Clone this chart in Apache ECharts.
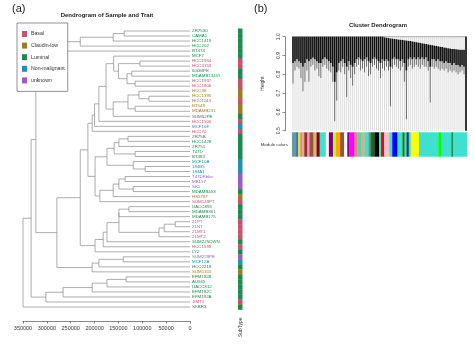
<!DOCTYPE html>
<html>
<head>
<meta charset="utf-8">
<script src="https://cdn.jsdelivr.net/npm/echarts@6/dist/echarts.min.js"></script>
<style>
html, body { margin: 0; padding: 0; background: #fff; }
#chart { width: 474px; height: 347px; }
</style>
</head>
<body>
<div id="chart"></div>
<script>
// ---- Panel (a): sample dendrogram ----
const subtypeNames = ['Basal', 'Claudin-low', 'Luminal', 'Non-malignant', 'unknown'];
const subtypeColors = ['#c4536f', '#9c7c26', '#1f8a50', '#2590b2', '#9a5cbf'];

// leaves, top to bottom
const leafNames = [
  'ZR7530', 'CAMA1', 'HCC1419', 'HCC202', 'BT474', 'MCF7', 'HCC1954', 'HCC3153',
  '600MPE', 'MDAMB134VI', 'HCC1937', 'HCC1806', 'HCC38', 'HCC1395', 'HCC1143', 'BT549',
  'MDAMB231', 'SUM52PE', 'HCC1500', 'MCF10F', 'HCC70', 'ZR75B', 'HCC1428', 'ZR751',
  'T47D', 'BT483', 'MCF10A', '184B5', '184A1', 'T47DKbluc', 'MB157', 'SK1',
  'MDAMB453', 'HS578T', 'SUM149PT', 'UACC893', 'MDAMB361', 'MDAMB175', '21PT', '21NT',
  '21MT1', '21MT2', 'SUM225CWN', 'HCC1599', 'LY2', 'SUM229PE', 'MCF12A', 'HCC2218',
  'SUM1315', 'EFM192B', 'AU565', 'UACC812', 'EFM192C', 'EFM192A', 'JIMT1', 'SKBR3'
];
// subtype index of each leaf (into subtypeNames)
const leafSubtype = [
  2, 2, 2, 2, 2, 2, 0, 0,
  2, 2, 0, 0, 1, 1, 0, 1,
  1, 2, 0, 3, 0, 2, 2, 2,
  2, 2, 3, 3, 3, 4, 4, 4,
  2, 1, 0, 2, 2, 2, 0, 0,
  0, 0, 2, 0, 2, 4, 3, 2,
  1, 2, 2, 2, 2, 2, 0, 2
];
// hclust-style merges: negative = leaf (1-based), positive = earlier merge; third = height
const merges = [
  [-1, -2, 138000], [1, -3, 161000], [2, -4, 230000], [3, -5, 300000],
  [-7, -8, 105000], [-9, -10, 122000], [-11, -12, 115000], [6, 7, 132000],
  [5, 8, 150000], [-6, 9, 160000], [-14, -15, 86000], [-13, 11, 107000],
  [-16, -17, 115000], [12, 13, 130000], [14, -18, 161000], [10, 15, 176000],
  [16, -19, 191000], [17, -20, 200000], [18, -21, 205000],
  [-22, -23, 130000], [20, -24, 149000], [-25, -26, 115000], [21, 22, 159000],
  [-28, -29, 94000], [-27, 24, 119000], [23, 25, 174000], [-30, -31, 136000],
  [-32, -33, 119000], [27, 28, 149000], [29, -34, 161000], [30, -35, 189000],
  [26, 31, 199000], [-36, -37, 128000], [33, -38, 149000], [-39, -40, 31000],
  [35, -41, 54000], [36, -42, 65000], [34, 37, 149000], [38, -43, 174000],
  [39, -44, 182000], [40, -45, 199000], [19, 32, 214000], [42, 41, 230000],
  [-46, -47, 140000], [44, -48, 191000], [45, -49, 205000], [43, 46, 279000],
  [4, 47, 323000], [-50, -51, 134000], [49, -52, 174000], [50, -53, 205000],
  [51, -54, 266000], [52, -55, 302000], [48, 53, 333000], [54, -56, 350000]
];

// ---- Panel (b): gene cluster dendrogram ----
// per column along the gene order: top of the branch mass, bottom of the dense
// branch mass, and the lowest single branch (all in Height units)
const branchTop = [
  1, 1, 1, 1, 1, 1, 1, 1, 1, 1, 1, 1, 1, 1, 1, 1, 1, 1, 1, 1,
  1, 1, 1, 1, 1, 1, 1, 1, 1, 1, 1, 1, 1, 1, 1, 1, 1, 1, 1, 1,
  1, 1, 1, 1, 1, 1, 0.997, 0.995, 0.993, 0.991, 0.99, 0.988, 0.987, 0.985, 0.984, 0.983, 0.981, 0.98, 0.978, 0.977,
  0.975, 0.973, 0.971, 0.969, 0.967, 0.965, 0.963, 0.961, 0.959, 0.957, 0.955, 0.953, 0.951, 0.949, 0.947, 0.945,
  0.943, 0.941, 0.939, 0.937, 0.935, 0.934, 0.933, 0.932, 0.931, 0.93, 0.93, 1
];
const branchDense = [
  0.86, 0.87, 0.88, 0.87, 0.86, 0.84, 0.86, 0.88, 0.87, 0.88, 0.89, 0.88, 0.87, 0.86, 0.86, 0.88, 0.89, 0.88, 0.87, 0.86,
  0.84, 0.76, 0.81, 0.86, 0.87, 0.88, 0.86, 0.84, 0.87, 0.85, 0.84, 0.86, 0.88, 0.89, 0.88, 0.87, 0.88, 0.89, 0.87, 0.86,
  0.88, 0.89, 0.88, 0.87, 0.86, 0.88, 0.87, 0.88, 0.87, 0.84, 0.88, 0.89, 0.88, 0.88, 0.87, 0.88, 0.86, 0.82, 0.88, 0.89,
  0.88, 0.89, 0.88, 0.89, 0.88, 0.89, 0.88, 0.89, 0.87, 0.84, 0.88, 0.88, 0.87, 0.88, 0.87, 0.87, 0.86, 0.87, 0.86, 0.86,
  0.85, 0.86, 0.85, 0.85, 0.84, 0.85, 0.84, 0.50
];
const branchLow = [
  0.75, 0.82, 0.84, 0.83, 0.78, 0.71, 0.76, 0.82, 0.76, 0.84, 0.85, 0.82, 0.83, 0.79, 0.78, 0.84, 0.85, 0.83, 0.82, 0.81,
  0.76, 0.55, 0.66, 0.82, 0.81, 0.84, 0.80, 0.68, 0.82, 0.78, 0.74, 0.80, 0.84, 0.85, 0.82, 0.83, 0.81, 0.84, 0.79, 0.80,
  0.84, 0.85, 0.83, 0.82, 0.78, 0.83, 0.82, 0.84, 0.82, 0.63, 0.83, 0.85, 0.84, 0.83, 0.82, 0.84, 0.76, 0.56, 0.84, 0.85,
  0.83, 0.84, 0.85, 0.84, 0.83, 0.85, 0.84, 0.84, 0.82, 0.65, 0.84, 0.83, 0.84, 0.83, 0.82, 0.83, 0.82, 0.83, 0.81, 0.82,
  0.81, 0.82, 0.81, 0.80, 0.81, 0.82, 0.80, 0.50
];
const rootHeight = 1.0;
const dendroBase = 0.5;

// module colour runs along the gene order: [module, gene count]
const moduleRuns = [
  ['cadetblue', 4], ['slateblue', 2], ['greenyellow', 2], ['salmon', 2], ['tan', 2],
  ['brown', 3], ['plum', 2], ['sienna', 4], ['tan', 3], ['darkred', 3],
  ['turquoise', 6], ['white', 3], ['purple', 4], ['greenyellow', 3], ['orange', 4],
  ['sienna', 4], ['white', 3], ['purple', 2], ['magenta', 5], ['salmon', 3],
  ['mediumaquamarine', 4], ['tan', 3], ['turquoise', 4], ['grey', 2], ['green', 2],
  ['darkslategray', 2], ['black', 4], ['turquoise', 2], ['red', 3], ['pink', 5],
  ['turquoise', 3], ['blue', 5], ['turquoise', 5], ['green', 2], ['turquoise', 2],
  ['midnightblue', 2], ['turquoise', 2], ['yellow', 8], ['turquoise', 19], ['lime', 3],
  ['turquoise', 10], ['darkgreen', 1], ['turquoise', 14]
];

// ---- derived structures ----
const nodeY = [], nodeH = [];
const dendroSegments = merges.map(function (m, k) {
  const side = function (c) {
    return c < 0 ? { y: -c - 1, h: 0 } : { y: nodeY[c - 1], h: nodeH[c - 1] };
  };
  const a = side(m[0]), b = side(m[1]);
  nodeY[k] = (a.y + b.y) / 2;
  nodeH[k] = m[2];
  return [m[2], a.y, b.y, a.h, b.h];
});
const subtypeBar = leafSubtype.map(function (s, i) { return [i, s]; });
const columns = branchTop.map(function (t, i) { return [i, t, branchDense[i], branchLow[i]]; });
let runStart = 0;
const moduleCells = moduleRuns.map(function (r) {
  const cell = [runStart, runStart + r[1], r[0]];
  runStart += r[1];
  return cell;
});
const geneCount = runStart;

const FONT = 'Liberation Sans, Arial, sans-serif';
const nLeaves = leafNames.length;
const nColumns = branchTop.length;

const chart = echarts.init(document.getElementById('chart'), null, { renderer: 'canvas' });

const option = {
  backgroundColor: '#fff',
  animation: false,
  textStyle: { fontFamily: FONT },
  legend: {
    orient: 'vertical',
    left: 17, top: 23,
    padding: [8, 3, 8, 5],
    itemWidth: 5, itemHeight: 6, itemGap: 5.6,
    icon: 'rect',
    borderColor: '#777', borderWidth: 0.8,
    backgroundColor: '#fff',
    selectedMode: false,
    textStyle: { fontSize: 5.2, color: '#333', fontFamily: FONT, padding: [0, 0, 0, -1] },
    data: subtypeNames
  },
  graphic: [
    { type: 'text', left: 12, top: 3, style: { text: '(a)', fontSize: 11, fill: '#222', fontFamily: FONT } },
    { type: 'text', left: 254, top: 3, style: { text: '(b)', fontSize: 11, fill: '#222', fontFamily: FONT } },
    { type: 'text', x: 107, y: 12, style: { text: 'Dendrogram of Sample and Trait', fontSize: 6, fontWeight: 'bold', fill: '#222', fontFamily: FONT, align: 'center' } },
    { type: 'text', x: 378, y: 22, style: { text: 'Cluster Dendrogram', fontSize: 6, fontWeight: 'bold', fill: '#222', fontFamily: FONT, align: 'center' } }
  ],
  grid: [
    { left: 23, width: 167, top: 28.5, height: 281 },
    { left: 238, width: 4.5, top: 28.5, height: 281 },
    { left: 292, width: 175, top: 36.7, height: 94 },
    { left: 292, width: 175, top: 132.3, height: 24.4 }
  ],
  xAxis: [
    {
      gridIndex: 0, type: 'value', min: 0, max: 350000, interval: 50000, inverse: true,
      offset: 11.5,
      axisLine: { show: true, onZero: false, lineStyle: { color: '#555', width: 0.7 } },
      axisTick: { show: true, length: 2.5, lineStyle: { color: '#555', width: 0.7 } },
      axisLabel: { fontSize: 5.5, color: '#333', margin: 4, formatter: function (v) { return String(v); } },
      splitLine: { show: false }
    },
    {
      gridIndex: 1, type: 'category', data: ['SubType'],
      axisLine: { show: false, onZero: false }, axisTick: { show: false },
      axisLabel: { rotate: 90, fontSize: 5, color: '#333', margin: 8 }
    },
    {
      gridIndex: 2, type: 'value', min: -0.5, max: nColumns - 0.5, show: false,
      axisLine: { onZero: false }
    },
    {
      gridIndex: 3, type: 'value', min: 0, max: geneCount, show: false,
      axisLine: { onZero: false }
    }
  ],
  yAxis: [
    {
      gridIndex: 0, type: 'value', min: -0.5, max: nLeaves - 0.5, inverse: true, show: false,
      axisLine: { onZero: false }
    },
    {
      gridIndex: 0, type: 'category', data: leafNames, inverse: true, position: 'right',
      axisLine: { show: false, onZero: false }, axisTick: { show: false },
      axisLabel: {
        interval: 0, fontSize: 4.4, margin: 2,
        color: function (v, i) { return subtypeColors[leafSubtype[i]]; }
      }
    },
    {
      gridIndex: 1, type: 'value', min: -0.5, max: nLeaves - 0.5, inverse: true, show: false,
      axisLine: { onZero: false }
    },
    {
      gridIndex: 2, type: 'value', min: dendroBase, max: 1.0, interval: 0.1,
      offset: 7,
      name: 'Height', nameLocation: 'middle', nameGap: 20, nameRotate: 90,
      nameTextStyle: { fontSize: 5, color: '#333' },
      axisLine: { show: true, onZero: false, lineStyle: { color: '#555', width: 0.7 } },
      axisTick: { show: true, length: 2.5, lineStyle: { color: '#555', width: 0.7 } },
      axisLabel: { rotate: 90, fontSize: 5, color: '#333', margin: 4, formatter: function (v) { return v.toFixed(1); } },
      splitLine: { show: false }
    },
    {
      gridIndex: 3, type: 'category', data: ['Module colors'],
      axisLine: { show: false, onZero: false }, axisTick: { show: false },
      axisLabel: { fontSize: 4.4, color: '#333', margin: 4 }
    }
  ],
  series: [
    {
      type: 'custom', name: 'tree', xAxisIndex: 0, yAxisIndex: 0,
      coordinateSystem: 'cartesian2d',
      encode: { x: [0, 3, 4], y: [1, 2] },
      data: dendroSegments,
      renderItem: function (params, api) {
        const h = api.value(0), y1 = api.value(1), y2 = api.value(2);
        const pts = [
          api.coord([api.value(3), y1]), api.coord([h, y1]),
          api.coord([h, y2]), api.coord([api.value(4), y2])
        ];
        return { type: 'polyline', shape: { points: pts }, style: { stroke: '#8a8a8a', lineWidth: 0.7, fill: null } };
      },
      z: 2
    },
    {
      type: 'custom', name: 'subtype', xAxisIndex: 1, yAxisIndex: 2,
      coordinateSystem: 'cartesian2d',
      data: subtypeBar,
      encode: { y: 0 },
      renderItem: function (params, api) {
        const i = api.value(0);
        const rect = params.coordSys;
        const p0 = api.coord([0, i - 0.5]);
        const p1 = api.coord([0, i + 0.5]);
        return {
          type: 'rect',
          shape: { x: rect.x, y: p0[1], width: rect.width, height: p1[1] - p0[1] + 0.3 },
          style: { fill: subtypeColors[api.value(1)] }
        };
      }
    },
    {
      type: 'custom', name: 'genes', xAxisIndex: 2, yAxisIndex: 3,
      coordinateSystem: 'cartesian2d',
      data: columns,
      encode: { x: 0, y: [1, 2, 3] },
      clip: false,
      renderItem: function (params, api) {
        const i = api.value(0), top = api.value(1);
        const c = api.coord([i, top]);
        const d = api.coord([i, api.value(2)]);
        const l = api.coord([i, api.value(3)]);
        const b = api.coord([i, dendroBase]);
        const rTop = api.coord([i, rootHeight]);
        const left = api.coord([i - 0.5, rootHeight]);
        const right = api.coord([i + 0.5, rootHeight]);
        const w = right[0] - left[0];
        const kids = [
          { type: 'line', shape: { x1: left[0], y1: left[1], x2: right[0], y2: right[1] }, style: { stroke: '#9a9a9a', lineWidth: 0.9 } },
          { type: 'line', shape: { x1: l[0], y1: l[1], x2: b[0], y2: b[1] }, style: { stroke: '#c6c6c6', lineWidth: 0.6 } },
          { type: 'line', shape: { x1: d[0], y1: d[1], x2: l[0], y2: l[1] }, style: { stroke: '#222', lineWidth: 0.7 } },
          { type: 'line', shape: { x1: c[0], y1: c[1], x2: d[0], y2: d[1] }, style: { stroke: '#111', lineWidth: w * 0.85 } }
        ];
        if (top < rootHeight) {
          kids.push({ type: 'line', shape: { x1: rTop[0], y1: rTop[1], x2: c[0], y2: c[1] }, style: { stroke: '#bdbdbd', lineWidth: 0.6 } });
        }
        return { type: 'group', children: kids };
      }
    },
    {
      type: 'custom', name: 'modules', xAxisIndex: 3, yAxisIndex: 4,
      coordinateSystem: 'cartesian2d',
      data: moduleCells,
      encode: { x: [0, 1] },
      renderItem: function (params, api) {
        const rect = params.coordSys;
        const a = api.coord([api.value(0), 0]);
        const b = api.coord([api.value(1), 0]);
        return {
          type: 'rect',
          shape: { x: a[0], y: rect.y, width: b[0] - a[0] + 0.3, height: rect.height },
          style: { fill: moduleCells[params.dataIndex][2] }
        };
      }
    }
  ].concat(subtypeNames.map(function (n, i) {
    return { type: 'line', name: n, data: [], xAxisIndex: 0, yAxisIndex: 0, itemStyle: { color: subtypeColors[i] } };
  }))
};

chart.setOption(option);
</script>
</body>
</html>
